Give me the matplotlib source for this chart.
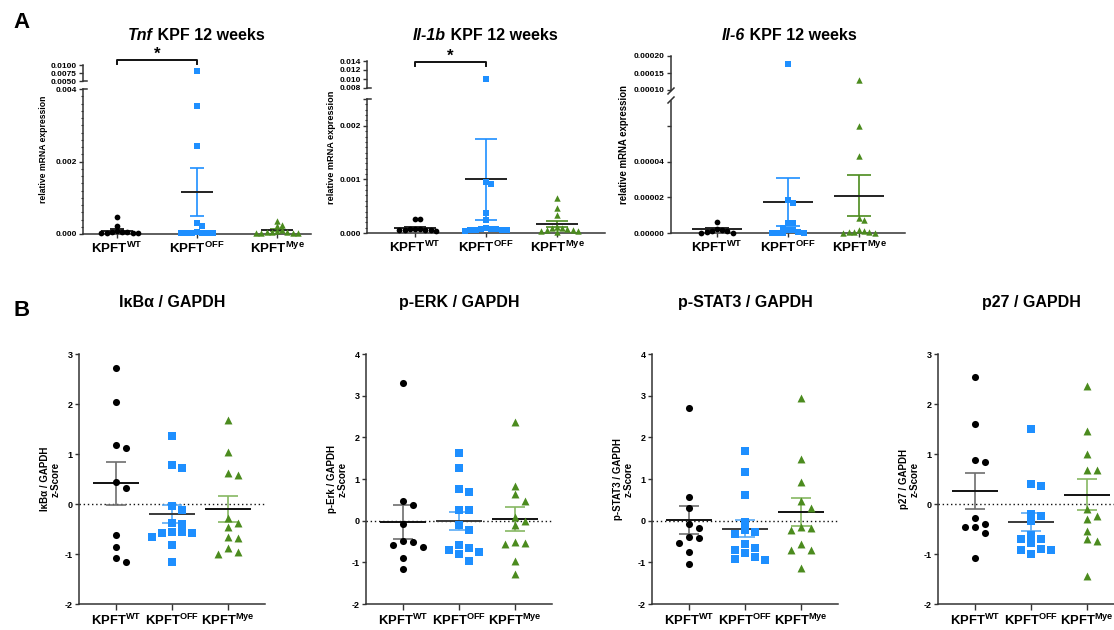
import numpy as np
import matplotlib
matplotlib.use("Agg")
import matplotlib.pyplot as plt
from matplotlib.transforms import blended_transform_factory

plt.rcParams["font.family"] = ["Liberation Sans", "DejaVu Sans"]
plt.rcParams["font.weight"] = "bold"
plt.rcParams["mathtext.fontset"] = "custom"
plt.rcParams["mathtext.rm"] = "Liberation Sans:bold"
plt.rcParams["mathtext.bf"] = "Liberation Sans:bold"
plt.rcParams["axes.unicode_minus"] = False

# ---- data ----
groups = ["WT", "OFF", "Mye"]
xlabels = [r"KPFT$^{\mathbf{WT}}$", r"KPFT$^{\mathbf{OFF}}$", r"KPFT$^{\mathbf{Mye}}$"]

# A: relative mRNA expression
tnf_wt = [0.00048, 0.00022, 0.00008, 0.00006, 0.00005, 0.00004, 0.00004, 0.00003, 0.00005, 0.00003]
tnf_off = [0.0081, 0.00353, 0.00243, 0.00030, 0.00022, 0.00004, 0.00003, 0.00005, 0.00003, 0.00004, 0.00002, 0.00003]
tnf_mye = [0.00037, 0.00026, 0.00022, 0.00012, 0.00008, 0.00006, 0.00005, 0.00004, 0.00005, 0.00003, 0.00004, 0.00003]
tnf_mean = [0.00009, 0.00116, 0.00010]
tnf_sem = [0.00004, 0.00065, 0.00003]

il1b_wt = [0.00027, 0.00027, 0.00008, 0.00007, 0.00006, 0.00005, 0.00006, 0.00003, 0.00007, 0.00006]
il1b_off = [0.0100, 0.00095, 0.00092, 0.00038, 0.00025, 0.00010, 0.00008, 0.00007, 0.00006, 0.00005,
            0.00008, 0.00004, 0.00006, 0.00005]
il1b_mye = [0.00066, 0.00047, 0.00034, 0.00012, 0.00010, 0.00008, 0.00009, 0.00006, 0.00005, 0.00004,
            0.00003, 0.00002]
il1b_mean = [0.00010, 0.00100, 0.00017]
il1b_sem = [0.00002, 0.00076, 0.00006]

il6_wt = [0.0000063, 0.0000022, 0.0000017, 0.0000011, 0.0000003, 0.0, 0.0, 0.0000014]
il6_off = [0.000177, 0.0000185, 0.0000168, 0.0000056, 0.0000054, 0.000003, 0.0000019, 0.0000019,
           0.0, 0.0, 0.0, 0.0000006, 0.0]
il6_mye = [0.000129, 0.00006, 0.000043, 0.0000082, 0.0000073, 0.0000019, 0.0000006, 0.0000012,
           0.0000006, 0.0000003, 0.0, 0.0]
il6_mean = [0.0000022, 0.0000174, 0.000021]
il6_sem = [0.0000007, 0.0000133, 0.0000115]

# B: z-scores
ikba_wt = [2.73, 2.05, 1.19, 1.12, 0.45, 0.33, -0.61, -0.85, -1.08, -1.15]
ikba_off = [1.37, 0.72, 0.79, -0.03, -0.11, -0.37, -0.39, -0.55, -0.56, -0.57, -0.58, -0.65, -0.81, -1.15]
ikba_mye = [1.69, 1.05, 0.59, 0.63, -0.28, -0.37, -0.45, -0.65, -0.68, -0.88, -0.95, -0.99]
ikba_mean = [0.42, -0.20, -0.10]
ikba_sem = [0.43, 0.18, 0.26]

perk_wt = [3.30, 0.47, 0.38, -0.07, -0.49, -0.51, -0.58, -0.64, -0.90, -1.16]
perk_off = [1.63, 1.27, 0.77, 0.68, 0.25, 0.25, -0.11, -0.23, -0.59, -0.65, -0.71, -0.75, -0.80, -0.96]
perk_mye = [2.37, 0.84, 0.63, 0.47, 0.10, 0.0, -0.10, -0.51, -0.55, -0.54, -0.97, -1.28]
perk_mean = [-0.03, 0.0, 0.04]
perk_sem = [0.40, 0.22, 0.28]

pstat3_wt = [2.70, 0.57, 0.30, -0.18, -0.09, -0.40, -0.41, -0.54, -0.74, -1.04]
pstat3_off = [1.68, 1.18, 0.61, -0.02, -0.22, -0.28, -0.31, -0.55, -0.65, -0.70, -0.78, -0.88, -0.92, -0.94]
pstat3_mye = [2.95, 1.49, 0.93, 0.47, 0.31, -0.14, -0.22, -0.17, -0.55, -0.70, -0.71, -1.13]
pstat3_mean = [0.02, -0.19, 0.21]
pstat3_sem = [0.33, 0.21, 0.33]

p27_wt = [2.55, 1.60, 0.88, 0.84, -0.28, -0.39, -0.46, -0.46, -0.58, -1.08]
p27_off = [1.51, 0.36, 0.41, -0.19, -0.23, -0.34, -0.62, -0.69, -0.69, -0.78, -0.90, -0.91, -0.91, -1.00]
p27_mye = [2.36, 1.47, 1.00, 0.68, 0.69, -0.09, -0.23, -0.30, -0.53, -0.69, -0.73, -1.44]
p27_mean = [0.26, -0.36, 0.19]
p27_sem = [0.36, 0.18, 0.31]

# ---- style ----
W, H = 1114, 630
fig = plt.figure(figsize=(W / 100, H / 100), dpi=100)
pt_col = ["#000000", "#1e8fff", "#4b8b1e"]
markers = ["o", "s", "^"]
msize_scale = [1.0, 1.0, 1.25]
spine_col = "#333333"


def px_axes(x0, y_top, x1, y_bot):
    return fig.add_axes([x0 / W, 1 - y_bot / H, (x1 - x0) / W, (y_bot - y_top) / H])


def style(ax, fs):
    for s in ["top", "right"]:
        ax.spines[s].set_visible(False)
    for s in ["left", "bottom"]:
        ax.spines[s].set_color(spine_col)
        ax.spines[s].set_linewidth(1.1)
    ax.patch.set_alpha(0)
    ax.tick_params(axis="y", labelsize=fs, length=3, width=1, color=spine_col, pad=1.5)
    ax.tick_params(axis="y", which="minor", length=1.8, width=0.8, color=spine_col)


def swarm(ax, x0, vals, step, thr):
    vals = np.asarray(vals, float)
    ypx = ax.transData.transform(np.column_stack([np.full(len(vals), x0), vals]))[:, 1]
    offs = np.zeros(len(vals))
    placed = []
    for i in np.argsort(-vals):
        k = 0
        while True:
            c = 0.0 if k == 0 else step * ((k + 1) // 2) * (1 if k % 2 else -1)
            if all((c - o) ** 2 + (ypx[i] - y) ** 2 >= thr ** 2 for o, y in placed):
                break
            k += 1
        offs[i] = c
        placed.append((c, ypx[i]))
    sx = ax.transData.transform((1, 0))[0] - ax.transData.transform((0, 0))[0]
    return x0 + offs / sx


def points(ax, x0, vals, k, s, step, thr):
    if len(vals) == 0:
        return
    xs = swarm(ax, x0, vals, step, thr)
    ax.scatter(xs, vals, marker=markers[k], s=s * msize_scale[k], c=pt_col[k], linewidths=0,
               zorder=3, clip_on=False)


def mean_sem(ax, x0, m, e, hm, hc, ecol, mcol, lw=1.2):
    ax.vlines(x0, m - e, m + e, color=ecol, lw=lw, zorder=2)
    ax.hlines([m - e, m + e], x0 - hc, x0 + hc, color=ecol, lw=lw, zorder=2)
    ax.hlines(m, x0 - hm, x0 + hm, color=mcol, lw=lw + 0.2, zorder=2)


def split_title(xc, yc, ital, rest, fs):
    r = fig.canvas.get_renderer()
    t1 = fig.text(0, 1 - yc / H, ital, fontsize=fs, style="italic", weight="bold", va="center")
    t2 = fig.text(0, 1 - yc / H, rest, fontsize=fs, weight="bold", va="center")
    w1 = t1.get_window_extent(r).width
    w2 = t2.get_window_extent(r).width
    x = xc - (w1 + w2) / 2
    t1.set_x(x / W)
    t2.set_x((x + w1) / W)


# ---- panel A ----
top_panels = [
    dict(data=[tnf_wt, tnf_off, tnf_mye], mean=tnf_mean, sem=tnf_sem, x0=83, spacing=80, off=34,
         low=(0, 0.004), low_px=(89, 234), up=(0.005, 0.0100), up_px=(65, 81),
         low_ticks=[0, 0.002, 0.004], low_fmt="%.3f", minor=0.0002,
         up_ticks=[0.005, 0.0075, 0.01], up_fmt="%.4f", hm=0.2, hc=0.09,
         title=("Tnf", " KPF 12 weeks"), tx=196, ylab_x=44, ylab_fs=6.2, brk="hook",
         sig=(0, 1, 60)),
    dict(data=[il1b_wt, il1b_off, il1b_mye], mean=il1b_mean, sem=il1b_sem, x0=367, spacing=71, off=48,
         low=(0, 0.0025), low_px=(99, 233), up=(0.008, 0.014), up_px=(61, 88),
         low_ticks=[0, 0.001, 0.002, 0.0025], low_fmt="%.3f", minor=0.0001,
         up_ticks=[0.008, 0.010, 0.012, 0.014], up_fmt="%.3f", hm=0.3, hc=0.15,
         title=("Il-1b", " KPF 12 weeks"), tx=485, ylab_x=331, ylab_fs=6.6, brk="hook",
         sig=(0, 1, 62)),
    dict(data=[il6_wt, il6_off, il6_mye], mean=il6_mean, sem=il6_sem, x0=671, spacing=71, off=46,
         low=(0, 0.000074), low_px=(101, 233), up=(0.0001, 0.0002), up_px=(56, 90),
         low_ticks=[0, 0.00002, 0.00004, 0.00006], low_fmt="%.5f", minor=None,
         up_ticks=[0.0001, 0.00015, 0.0002], up_fmt="%.5f", hm=0.35, hc=0.17,
         title=("Il-6", " KPF 12 weeks"), tx=789, ylab_x=624, ylab_fs=6.9, brk="diag",
         sig=None),
]

for p in top_panels:
    lo_x = -p["off"] / p["spacing"]
    hi_x = 2 - lo_x
    x1 = p["x0"] + (hi_x - lo_x) * p["spacing"]
    axl = px_axes(p["x0"], p["low_px"][0], x1, p["low_px"][1])
    axu = px_axes(p["x0"], p["up_px"][0], x1, p["up_px"][1])
    for ax in (axl, axu):
        style(ax, 6)
        ax.set_xlim(lo_x, hi_x)
    axl.set_ylim(*p["low"])
    axu.set_ylim(*p["up"])
    axu.spines["bottom"].set_visible(False)
    axu.set_xticks([])
    axl.set_yticks(p["low_ticks"])
    axl.set_yticklabels([(p["low_fmt"] % t) if t in p["low_ticks"][:3] or len(p["low_ticks"]) == 3 else ""
                         for t in p["low_ticks"]])
    if p["minor"]:
        axl.set_yticks(np.arange(0, p["low"][1] + 1e-12, p["minor"]), minor=True)
    axu.set_yticks(p["up_ticks"])
    axu.set_yticklabels([p["up_fmt"] % t for t in p["up_ticks"]])
    axl.set_xticks([0, 1, 2])
    axl.set_xticklabels(xlabels, fontsize=9.6)
    axl.tick_params(axis="x", length=3, width=1, color=spine_col, pad=2)

    for k in range(3):
        vals = np.asarray(p["data"][k], float)
        lowv = vals[vals <= p["low"][1]]
        upv = vals[vals > p["low"][1]]
        col = pt_col[k]
        mean_sem(axl, k, p["mean"][k], p["sem"][k], p["hm"], p["hc"], col, "#222222")
        points(axl, k, lowv, k, 17, 5.2, 5.0)
        points(axu, k, upv, k, 17, 5.2, 5.0)

    # axis break marks
    bt = blended_transform_factory(fig.transFigure, fig.transFigure)
    xs = p["x0"]
    if p["brk"] == "diag":
        for yb in (p["up_px"][1] + 1, p["low_px"][0] - 1):
            fig.add_artist(plt.Line2D([(xs - 3) / W, (xs + 3) / W], [1 - (yb + 3) / H, 1 - (yb - 3) / H],
                                      color=spine_col, lw=1.1, transform=bt))
    else:
        for yb in (p["up_px"][1], p["low_px"][0]):
            fig.add_artist(plt.Line2D([xs / W, (xs + 4) / W], [1 - yb / H, 1 - yb / H],
                                      color=spine_col, lw=1.1, transform=bt))

    split_title(p["tx"], 35, p["title"][0], p["title"][1], 11.5)
    fig.text(p["ylab_x"] / W, 1 - (p["up_px"][0] + p["low_px"][1]) / 2 / H, "relative mRNA expression",
             rotation=90, ha="center", va="center", fontsize=p["ylab_fs"], weight="bold")

    if p["sig"]:
        a, b, ypx = p["sig"]
        tr = blended_transform_factory(axl.transData, fig.transFigure)
        fig.add_artist(plt.Line2D([a, a, b, b], [1 - (ypx + 4) / H, 1 - ypx / H, 1 - ypx / H, 1 - (ypx + 4) / H],
                                  color="#111111", lw=1.4, transform=tr))
        fig.text((a + b) / 2, 1 - (ypx - 6) / H, "*", transform=tr, ha="center", va="center",
                 fontsize=12, weight="bold")

# ---- panel B ----
bottom_panels = [
    dict(data=[ikba_wt, ikba_off, ikba_mye], mean=ikba_mean, sem=ikba_sem, x0=79, ylim=(-2, 3),
         title="IκBα / GAPDH", ylab="IκBα / GAPDH\nz-Score"),
    dict(data=[perk_wt, perk_off, perk_mye], mean=perk_mean, sem=perk_sem, x0=366, ylim=(-2, 4),
         title="p-ERK / GAPDH", ylab="p-Erk / GAPDH\nz-Score"),
    dict(data=[pstat3_wt, pstat3_off, pstat3_mye], mean=pstat3_mean, sem=pstat3_sem, x0=652, ylim=(-2, 4),
         title="p-STAT3 / GAPDH", ylab="p-STAT3 / GAPDH\nz-Score"),
    dict(data=[p27_wt, p27_off, p27_mye], mean=p27_mean, sem=p27_sem, x0=938, ylim=(-2, 3),
         title="p27 / GAPDH", ylab="p27 / GAPDH\nz-Score"),
]
err_col = ["#6e6e6e", "#5aaaf5", "#86b862"]
mean_col = ["#111111", "#3a3a3a", "#111111"]
sp = 56
lo_x = -0.66

for p in bottom_panels:
    x1 = p["x0"] + (2 - 2 * lo_x) * sp
    ax = px_axes(p["x0"], 354, x1, 604)
    style(ax, 6.5)
    ax.set_xlim(lo_x, 2 - lo_x)
    ax.set_ylim(*p["ylim"])
    ax.set_yticks(np.arange(p["ylim"][0], p["ylim"][1] + 1))
    ax.set_xticks([0, 1, 2])
    ax.set_xticklabels(xlabels, fontsize=9.4)
    ax.tick_params(axis="x", length=4, width=1, color=spine_col, pad=2)
    ax.axhline(0, color="#111111", lw=1.0, ls=(0, (1, 2)), zorder=1)
    for k in range(3):
        mean_sem(ax, k, p["mean"][k], p["sem"][k], 0.41, 0.18, err_col[k], mean_col[k])
        points(ax, k, p["data"][k], k, 26, 10.0, 7.5)
    xc = p["x0"] + (1 - lo_x) * sp
    fig.text(xc / W, 1 - 302 / H, p["title"], ha="center", va="center", fontsize=11.5, weight="bold")
    fig.text((p["x0"] - 29) / W, 1 - 479 / H, p["ylab"], rotation=90, ha="center", va="center",
             fontsize=7, weight="bold", linespacing=1.05, multialignment="center")

fig.text(22 / W, 1 - 22 / H, "A", ha="center", va="center", fontsize=16, weight="bold")
fig.text(22 / W, 1 - 311 / H, "B", ha="center", va="center", fontsize=16, weight="bold")

fig.savefig("out.png", dpi=100)
